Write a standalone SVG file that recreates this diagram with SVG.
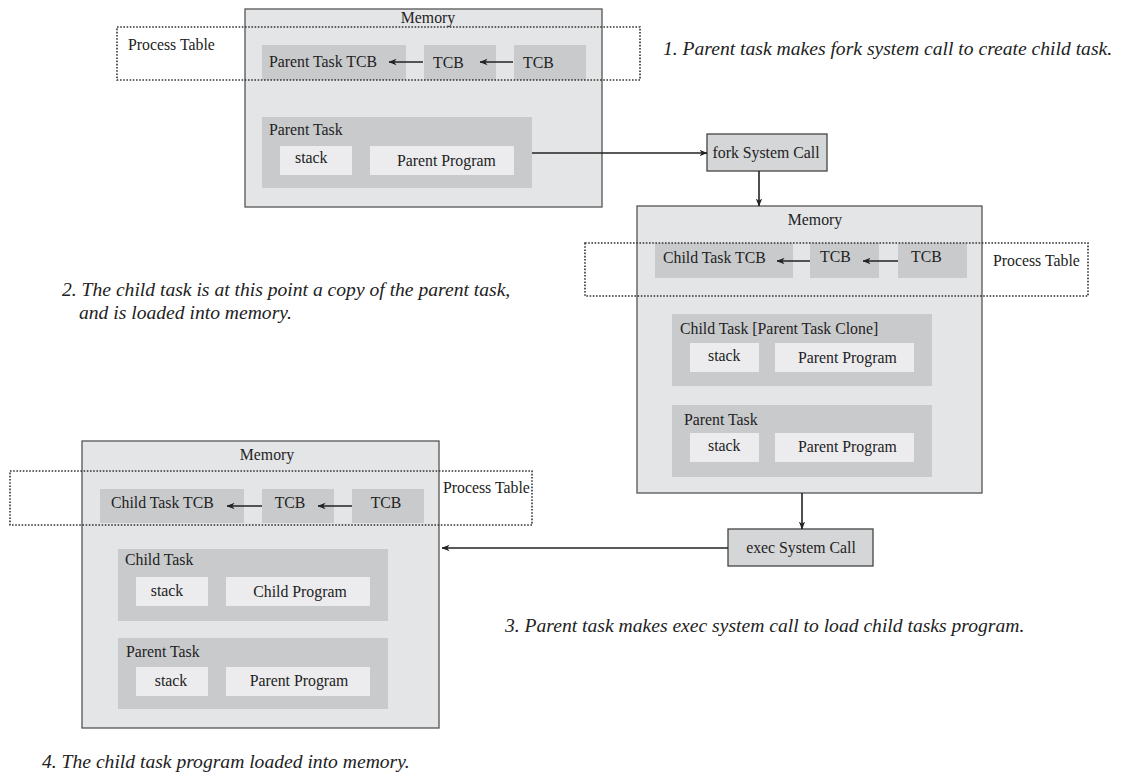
<svg xmlns="http://www.w3.org/2000/svg" width="1123" height="777" viewBox="0 0 1123 777">
  <defs>
    <marker id="arrow" viewBox="0 0 8 8" refX="7.5" refY="4" markerWidth="8" markerHeight="8" markerUnits="userSpaceOnUse" orient="auto">
      <path d="M0,0.8 L8,4 L0,7.2 L2.2,4 Z" fill="#222"/>
    </marker>
    <style>
      .mem { fill: #e4e5e7; stroke: #555; stroke-width: 1.3; }
      .task { fill: #c9cacc; }
      .tcb { fill: #c9cacc; }
      .seg { fill: #ececee; }
      .call { fill: #d5d6d8; stroke: #444; stroke-width: 1.3; }
      .ptab { fill: none; stroke: #333; stroke-width: 1.6; stroke-dasharray: 1.6 1.6; }
      .t { font-family: "Liberation Serif", "Times New Roman", serif; font-size: 15.8px; fill: #222; }
      .c { text-anchor: middle; }
      .cap { font-family: "Liberation Serif", "Times New Roman", serif; font-size: 19.6px; font-style: italic; fill: #222; }
      .link { fill: none; stroke: #222; stroke-width: 1.6; marker-end: url(#arrow); }
    </style>
  </defs>
  <rect width="1123" height="777" fill="#fff"/>

  <!-- Memory 1: parent task before fork -->
  <g id="memory1">
    <rect class="mem" x="245" y="9" width="357" height="198"/>
    <text class="t c" x="428" y="23">Memory</text>
    <rect class="tcb" x="262" y="45" width="144" height="35"/>
    <text class="t" x="269" y="67">Parent Task TCB</text>
    <rect class="tcb" x="424" y="45" width="72" height="35"/>
    <text class="t" x="433" y="68">TCB</text>
    <rect class="tcb" x="514" y="45" width="72" height="35"/>
    <text class="t" x="523" y="68">TCB</text>
    <rect class="task" x="262" y="117" width="270" height="71"/>
    <text class="t" x="269" y="135">Parent Task</text>
    <rect class="seg" x="280" y="146" width="72" height="29"/>
    <text class="t" x="295" y="163">stack</text>
    <rect class="seg" x="370" y="146" width="144" height="29"/>
    <text class="t" x="397" y="166">Parent Program</text>
  </g>
  <g id="ptable1">
    <rect class="ptab" x="117" y="27" width="523" height="53"/>
    <text class="t" x="128" y="50">Process Table</text>
  </g>

  <!-- fork system call -->
  <g id="fork">
    <rect class="call" x="707" y="134" width="120" height="37"/>
    <text class="t c" x="766" y="158">fork System Call</text>
  </g>

  <!-- Memory 2: child is a clone of the parent -->
  <g id="memory2">
    <rect class="mem" x="637" y="206" width="345" height="287"/>
    <text class="t c" x="815" y="225">Memory</text>
    <rect class="tcb" x="655" y="243" width="138" height="35"/>
    <text class="t" x="663" y="263">Child Task TCB</text>
    <rect class="tcb" x="810" y="243" width="69" height="35"/>
    <text class="t" x="820" y="262">TCB</text>
    <rect class="tcb" x="898" y="243" width="69" height="35"/>
    <text class="t" x="911" y="262">TCB</text>
    <rect class="task" x="672" y="314" width="260" height="72"/>
    <text class="t" x="680" y="334">Child Task [Parent Task Clone]</text>
    <rect class="seg" x="690" y="343" width="69" height="29"/>
    <text class="t" x="708" y="361">stack</text>
    <rect class="seg" x="775" y="343" width="139" height="29"/>
    <text class="t" x="798" y="363">Parent Program</text>
    <rect class="task" x="672" y="405" width="260" height="72"/>
    <text class="t" x="684" y="425">Parent Task</text>
    <rect class="seg" x="690" y="433" width="69" height="29"/>
    <text class="t" x="708" y="451">stack</text>
    <rect class="seg" x="775" y="433" width="139" height="29"/>
    <text class="t" x="798" y="452">Parent Program</text>
  </g>
  <g id="ptable2">
    <rect class="ptab" x="585" y="243" width="503" height="53"/>
    <text class="t" x="993" y="266">Process Table</text>
  </g>

  <!-- exec system call -->
  <g id="exec">
    <rect class="call" x="728" y="529" width="145" height="37"/>
    <text class="t c" x="801" y="553">exec System Call</text>
  </g>

  <!-- Memory 3: child program loaded -->
  <g id="memory3">
    <rect class="mem" x="82" y="441" width="357" height="287"/>
    <text class="t c" x="267" y="460">Memory</text>
    <rect class="tcb" x="100" y="489" width="144" height="34"/>
    <text class="t" x="111" y="508">Child Task TCB</text>
    <rect class="tcb" x="262" y="489" width="72" height="34"/>
    <text class="t c" x="290" y="508">TCB</text>
    <rect class="tcb" x="352" y="489" width="72" height="34"/>
    <text class="t c" x="386" y="508">TCB</text>
    <rect class="task" x="118" y="549" width="270" height="72"/>
    <text class="t" x="125" y="565">Child Task</text>
    <rect class="seg" x="136" y="577" width="72" height="29"/>
    <text class="t c" x="167" y="596">stack</text>
    <rect class="seg" x="226" y="577" width="144" height="29"/>
    <text class="t c" x="300" y="597">Child Program</text>
    <rect class="task" x="118" y="638" width="270" height="71"/>
    <text class="t" x="126" y="657">Parent Task</text>
    <rect class="seg" x="136" y="667" width="72" height="29"/>
    <text class="t c" x="171" y="686">stack</text>
    <rect class="seg" x="226" y="667" width="144" height="29"/>
    <text class="t c" x="299" y="686">Parent Program</text>
  </g>
  <g id="ptable3">
    <rect class="ptab" x="10" y="471" width="522" height="54"/>
    <text class="t" x="443" y="493">Process Table</text>
  </g>

  <!-- connectors -->
  <g id="connectors">
    <line class="link" x1="423" y1="62" x2="389" y2="62"/>
    <line class="link" x1="513" y1="62" x2="480" y2="62"/>
    <line class="link" x1="532" y1="153" x2="707" y2="153"/>
    <line class="link" x1="759" y1="171" x2="759" y2="206"/>
    <line class="link" x1="810" y1="261" x2="777" y2="261"/>
    <line class="link" x1="898" y1="261" x2="863" y2="261"/>
    <line class="link" x1="802" y1="493" x2="802" y2="529"/>
    <line class="link" x1="728" y1="548" x2="442" y2="548"/>
    <line class="link" x1="262" y1="506" x2="227" y2="506"/>
    <line class="link" x1="352" y1="506" x2="318" y2="506"/>
  </g>

  <!-- step captions -->
  <g id="captions">
    <text class="cap" x="663" y="55">1. Parent task makes fork system call to create child task.</text>
    <text class="cap" x="62" y="296">2. The child task is at this point a copy of the parent task,</text>
    <text class="cap" x="79" y="319">and is loaded into memory.</text>
    <text class="cap" x="505" y="632">3. Parent task makes exec system call to load child tasks program.</text>
    <text class="cap" x="42" y="768">4. The child task program loaded into memory.</text>
  </g>
</svg>
